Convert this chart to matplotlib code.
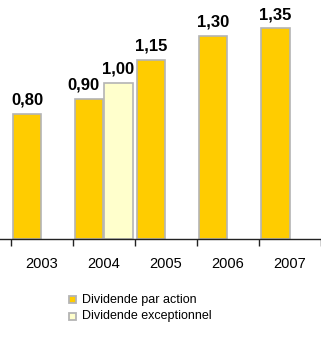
import matplotlib
matplotlib.use("Agg")
import matplotlib.pyplot as plt
from matplotlib.patches import Rectangle

years = ["2003", "2004", "2005", "2006", "2007"]
dividende_par_action = [0.80, 0.90, 1.15, 1.30, 1.35]
dividende_exceptionnel = [None, 1.00, None, None, None]
labels_action = ["0,80", "0,90", "1,15", "1,30", "1,35"]
labels_except = [None, "1,00", None, None, None]
legend_labels = ["Dividende par action", "Dividende exceptionnel"]

C_MAIN = "#FFCC00"
C_EXC = "#FFFFCC"
C_EDGE = "#B4B4B4"

W, H = 321, 338
fig = plt.figure(figsize=(W / 100, H / 100), dpi=100)
plt.rcParams['font.family'] = ['Liberation Sans', 'DejaVu Sans']

base_px = 239
unit_px = 156.0
cat_px = 62.7
left_tick_px = 11

ax = fig.add_axes([0, (H - base_px) / H, 1, base_px / H])
xl = -0.5 - left_tick_px / cat_px
ax.set_xlim(xl, xl + W / cat_px)
ax.set_ylim(0, base_px / unit_px)

x = list(range(len(years)))
bw = 0.455
off = 0.235
ax.bar([i - off for i in x], dividende_par_action, width=bw, color=C_MAIN,
       edgecolor=C_EDGE, linewidth=1.2, zorder=2)
xe = [i + off for i, v in zip(x, dividende_exceptionnel) if v is not None]
ve = [v for v in dividende_exceptionnel if v is not None]
ax.bar(xe, ve, width=bw, color=C_EXC, edgecolor=C_EDGE, linewidth=1.2, zorder=2)

for i, (v, lab) in enumerate(zip(dividende_par_action, labels_action)):
    dx = -0.09 if i == 1 else 0
    ax.text(i - off + dx, v + 0.04, lab, ha='center', va='bottom',
            fontsize=12, fontweight='bold', color='black')
for i, (v, lab) in enumerate(zip(dividende_exceptionnel, labels_except)):
    if v is not None:
        ax.text(i + off, v + 0.04, lab, ha='center', va='bottom',
                fontsize=12, fontweight='bold', color='black')

for s in ['top', 'right', 'left']:
    ax.spines[s].set_visible(False)
ax.spines['bottom'].set_color('#222222')
ax.spines['bottom'].set_linewidth(1)
ax.set_yticks([])
ax.set_xticks([i - 0.5 for i in range(len(years) + 1)])
ax.set_xticklabels([])
ax.set_xticks(x, minor=True)
ax.set_xticklabels(years, minor=True, fontsize=10.5)
ax.tick_params(axis='x', which='major', length=5, width=1, color='#222222', direction='out')
ax.tick_params(axis='x', which='minor', length=0, pad=13)

# legend
for k, (lab, col) in enumerate(zip(legend_labels, [C_MAIN, C_EXC])):
    yc = 299.5 + 17 * k
    fig.add_artist(Rectangle((68.5 / W, (H - yc - 3.75) / H), 7.5 / W, 7.5 / H,
                             transform=fig.transFigure, facecolor=col,
                             edgecolor=C_EDGE, linewidth=1.3))
    fig.text(82 / W, (H - yc) / H, lab, fontsize=9, va='center', ha='left')

fig.savefig("out.png", dpi=100)
